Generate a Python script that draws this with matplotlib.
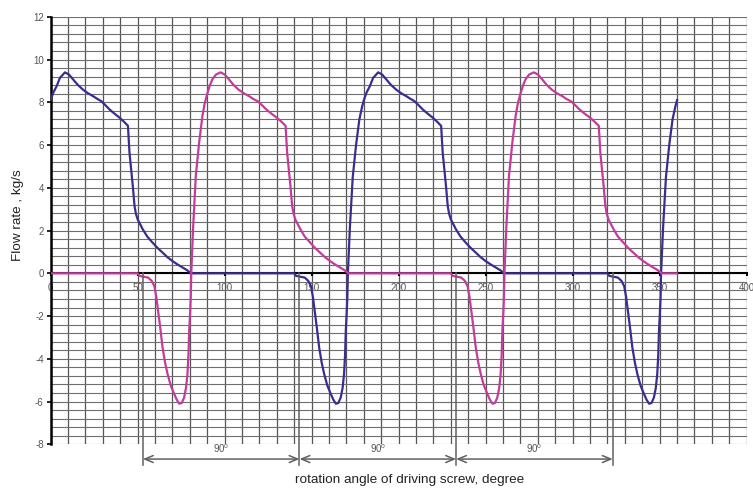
import matplotlib
matplotlib.use("Agg")
import matplotlib.pyplot as plt
from matplotlib.ticker import MultipleLocator

plt.rcParams['font.family'] = ['Liberation Sans', 'DejaVu Sans']
plt.rcParams['mathtext.default'] = 'regular'

# ---------------- data ----------------
blue_x = [0, 1.5, 3.4, 5.3, 8.2, 10.5, 12.9, 15.5, 18.6, 21.5, 24.3, 27, 29.1, 31.5, 33.9, 36.8, 39.6, 42, 44.4,
          45.3, 46.3, 47.2, 48.2, 49, 50, 52.9, 55.5, 58.6, 61.5, 64.3, 67, 70, 73, 75.8, 78.3, 80.6,
          140, 141, 146, 148, 149.6, 150.7, 151.5, 152.9, 154.3, 155.8, 157.2, 159, 161, 162.5, 163.9, 165.3,
          166.7, 167.8, 168.6, 169.2, 169.6, 170.1, 170.5, 170.8,
          172, 173.6, 175.5, 177.4, 179, 180, 181.5, 183.4, 185.3, 188.2, 190.5, 192.9, 195.5, 198.6, 201.5,
          204.3, 207, 209.1, 211.5, 213.9, 216.8, 219.6, 222, 224.4,
          225.3, 226.3, 227.2, 228.2, 229, 230, 232.9, 235.5, 238.6, 241.5, 244.3, 247, 250, 253, 255.8, 258.3, 260.6,
          320, 321, 326, 328, 329.6, 330.7, 331.5, 332.9, 334.3, 335.8, 337.2, 339, 341, 342.5, 343.9, 345.3,
          346.7, 347.8, 348.6, 349.2, 349.6, 350.1, 350.5, 350.8,
          352, 353.6, 355.5, 357.4, 359, 360]
blue_y = [8.1, 8.45, 8.75, 9.14, 9.4, 9.3, 9.07, 8.82, 8.59, 8.42, 8.29, 8.15, 8.05, 7.86, 7.66, 7.46, 7.28, 7.1, 6.9,
          5.64, 4.8, 4.08, 3.14, 2.78, 2.52, 2.06, 1.72, 1.43, 1.18, 0.97, 0.76, 0.57, 0.41, 0.27, 0.15, 0.0,
          0.0, -0.12, -0.2, -0.35, -0.6, -1.1, -1.6, -2.5, -3.47, -4.2, -4.72, -5.25, -5.65, -5.92, -6.1, -6.07,
          -5.81, -5.35, -4.72, -3.8, -2.7, -1.9, -1.14, 0.0,
          2.2, 4.5, 6.0, 7.2, 7.8, 8.1, 8.45, 8.75, 9.14, 9.4, 9.3, 9.07, 8.82, 8.59, 8.42,
          8.29, 8.15, 8.05, 7.86, 7.66, 7.46, 7.28, 7.1, 6.9,
          5.64, 4.8, 4.08, 3.14, 2.78, 2.52, 2.06, 1.72, 1.43, 1.18, 0.97, 0.76, 0.57, 0.41, 0.27, 0.15, 0.0,
          0.0, -0.12, -0.2, -0.35, -0.6, -1.1, -1.6, -2.5, -3.47, -4.2, -4.72, -5.25, -5.65, -5.92, -6.1, -6.07,
          -5.81, -5.35, -4.72, -3.8, -2.7, -1.9, -1.14, 0.0,
          2.2, 4.5, 6.0, 7.2, 7.8, 8.1]

magenta_x = [0, 50, 51, 56, 58, 59.6, 60.7, 61.5, 62.9, 64.3, 65.8, 67.2, 69, 71, 72.5, 73.9, 75.3, 76.7, 77.8,
             78.6, 79.2, 79.6, 80.1, 80.5, 80.8,
             81.9, 83.4, 85.3, 87.2, 88.5, 90, 91.5, 92.9, 95, 97.7, 100, 102.5, 105, 108, 111, 114, 116.5, 119,
             121.5, 124, 127, 130, 132.5, 135,
             135.9, 136.9, 137.8, 138.8, 139.6, 140.6, 143.5, 146, 149.2, 152, 154.8, 157.6, 160.6, 163.5, 166.3,
             168.8, 171,
             230, 231, 236, 238, 239.6, 240.7, 241.5, 242.9, 244.3, 245.8, 247.2, 249, 251, 252.5, 253.9, 255.3,
             256.7, 257.8, 258.6, 259.2, 259.6, 260.1, 260.5, 260.8,
             261.9, 263.4, 265.3, 267.2, 268.5, 270, 271.5, 272.9, 275, 277.7, 280, 282.5, 285, 288, 291, 294,
             296.5, 299, 301.5, 304, 307, 310, 312.5, 315,
             315.9, 316.9, 317.8, 318.8, 319.6, 320.6, 323.5, 326, 329.2, 332, 334.8, 337.6, 340.6, 343.5, 346.3,
             348.8, 351, 360]
magenta_y = [0.0, 0.0, -0.12, -0.2, -0.35, -0.6, -1.1, -1.6, -2.5, -3.47, -4.2, -4.72, -5.25, -5.65, -5.92, -6.1,
             -6.07, -5.81, -5.35, -4.72, -3.8, -2.7, -1.9, -1.14, 0.0,
             2.2, 4.55, 6.1, 7.35, 7.95, 8.4, 8.8, 9.07, 9.3, 9.4, 9.3, 9.07, 8.82, 8.59, 8.42, 8.29, 8.15, 8.05,
             7.86, 7.66, 7.46, 7.28, 7.1, 6.9,
             5.64, 4.8, 4.08, 3.14, 2.78, 2.52, 2.06, 1.72, 1.43, 1.18, 0.97, 0.76, 0.57, 0.41, 0.27, 0.15, 0.0,
             0.0, -0.12, -0.2, -0.35, -0.6, -1.1, -1.6, -2.5, -3.47, -4.2, -4.72, -5.25, -5.65, -5.92, -6.1,
             -6.07, -5.81, -5.35, -4.72, -3.8, -2.7, -1.9, -1.14, 0.0,
             2.2, 4.55, 6.1, 7.35, 7.95, 8.4, 8.8, 9.07, 9.3, 9.4, 9.3, 9.07, 8.82, 8.59, 8.42, 8.29,
             8.15, 8.05, 7.86, 7.66, 7.46, 7.28, 7.1, 6.9,
             5.64, 4.8, 4.08, 3.14, 2.78, 2.52, 2.06, 1.72, 1.43, 1.18, 0.97, 0.76, 0.57, 0.41, 0.27, 0.15, 0.0, 0.0]

x_ticks = [0, 50, 100, 150, 200, 250, 300, 350, 400]
y_ticks = [-8, -6, -4, -2, 0, 2, 4, 6, 8, 10, 12]
marker_angles = [53, 143, 233, 323]
interval_label = '90$^{o}$'
x_label = 'rotation angle of driving screw, degree'
y_label = 'Flow rate , kg/s'

# ---------------- figure ----------------
fig = plt.figure(figsize=(7.53, 4.91), dpi=100)
ax = fig.add_axes([0.0673, 0.0951, 0.9916 - 0.0673, 0.9658 - 0.0951])
ax.set_xlim(0, 400)
ax.set_ylim(-8, 12)

ax.xaxis.set_minor_locator(MultipleLocator(10))
ax.yaxis.set_minor_locator(MultipleLocator(0.4))
ax.set_xticks(x_ticks)
ax.set_yticks(y_ticks)
ax.set_xticklabels([str(v) for v in x_ticks])
ax.set_yticklabels([str(v) for v in y_ticks])
ax.grid(True, which='both', axis='x', color='#555555', lw=0.9)
ax.grid(True, which='both', axis='y', color='#6e6e6e', lw=0.8)
ax.set_axisbelow(True)

for s in ['top', 'right']:
    ax.spines[s].set_visible(False)
ax.spines['left'].set_linewidth(1.8)
ax.spines['left'].set_color('black')
ax.spines['bottom'].set_position(('data', 0))
ax.spines['bottom'].set_linewidth(1.5)
ax.spines['bottom'].set_color('black')

ax.tick_params(axis='x', which='major', direction='out', length=2, width=1.5, color='black',
               labelsize=7, labelcolor='#555555', pad=5)
ax.tick_params(axis='y', which='major', direction='out', length=3, width=1.2, color='black',
               labelsize=7, labelcolor='#555555', pad=2)
ax.tick_params(which='minor', length=0)

ax.plot(blue_x, blue_y, color='#3b2d8e', lw=1.6, zorder=3, solid_joinstyle='round')
ax.plot(magenta_x, magenta_y, color='#c23c9c', lw=1.6, zorder=4, solid_joinstyle='round')

# 90-degree interval annotations
for a in marker_angles:
    ax.plot([a, a], [0, -8.95], color='#606060', lw=1.1, clip_on=False, zorder=5)
for a0, a1 in zip(marker_angles[:-1], marker_angles[1:]):
    ax.annotate('', xy=(a1, -8.69), xytext=(a0, -8.69), annotation_clip=False,
                arrowprops=dict(arrowstyle='<->,head_length=0.6,head_width=0.25', color='#606060',
                                lw=1.1, shrinkA=0, shrinkB=0))
    ax.text((a0 + a1) / 2, -8.22, interval_label, ha='center', va='center', fontsize=7,
            color='#555555', clip_on=False)

fig.text(0.5445, 0.022, x_label, ha='center', va='center', fontsize=9.7, color='#222222')
fig.text(0.024, 1 - 215 / 491, y_label, ha='center', va='center', rotation=90, fontsize=9.7, color='#222222')

fig.savefig('out.png', dpi=100, facecolor='white')
